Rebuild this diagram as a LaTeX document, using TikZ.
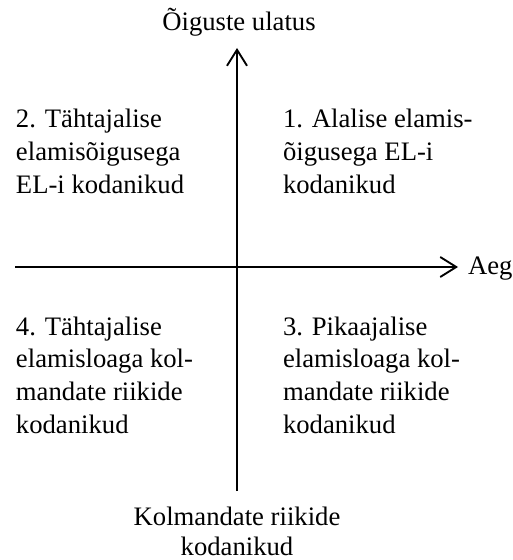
\documentclass[tikz,border=0pt]{standalone}
\usepackage{fontspec}
\setmainfont{Liberation Serif}
\usetikzlibrary{arrows.meta}

\tikzset{every picture/.style={line width=1.5pt}}
\tikzset{
  axis/.style={line width=1.5pt, -{Straight Barb[length=12pt,width=15pt,line width=1.4pt]}},
  label/.style={font=\fontsize{20}{24.5}\selectfont, inner sep=0pt, align=left},
  clabel/.style={font=\fontsize{20}{22.5}\selectfont, inner sep=0pt, align=center}
}

\begin{document}
\begin{tikzpicture}[x=0.75pt,y=0.75pt,yscale=-1,xscale=1]
\useasboundingbox (0,0) rectangle (512,560);

% Axis ends
\coordinate (vbot) at (237,491);
\coordinate (vtop) at (237,48);
\coordinate (hleft) at (15,267);
\coordinate (hright) at (458,267);

%Straight Lines: vertical axis
\draw [axis] (vbot) -- (vtop) ;
%Straight Lines: horizontal axis
\draw [axis] (hleft) -- (hright) ;

% Text Node (base = last line)
\node (top) [clabel, anchor=base] at (239,31) {Õiguste ulatus};
% Text Node
\node (aeg) [label, anchor=base west] at (467,274) {Aeg};
% Text Node
\node (bottom) [clabel, anchor=base] at (237,555) {Kolmandate riikide\\kodanikud};
% Text Node
\node (q2) [label, anchor=base west] at (15,193) {2. Tähtajalise\\elamisõigusega\\EL-i kodanikud};
% Text Node
\node (q1) [label, anchor=base west] at (282,193) {1. Alalise elamis-\\õigusega EL-i\\kodanikud};
% Text Node
\node (q4) [label, anchor=base west] at (15,433) {4. Tähtajalise\\elamisloaga kol-\\mandate riikide\\kodanikud};
% Text Node
\node (q3) [label, anchor=base west] at (282,433) {3. Pikaajalise\\elamisloaga kol-\\mandate riikide\\kodanikud};

\end{tikzpicture}
\end{document}
